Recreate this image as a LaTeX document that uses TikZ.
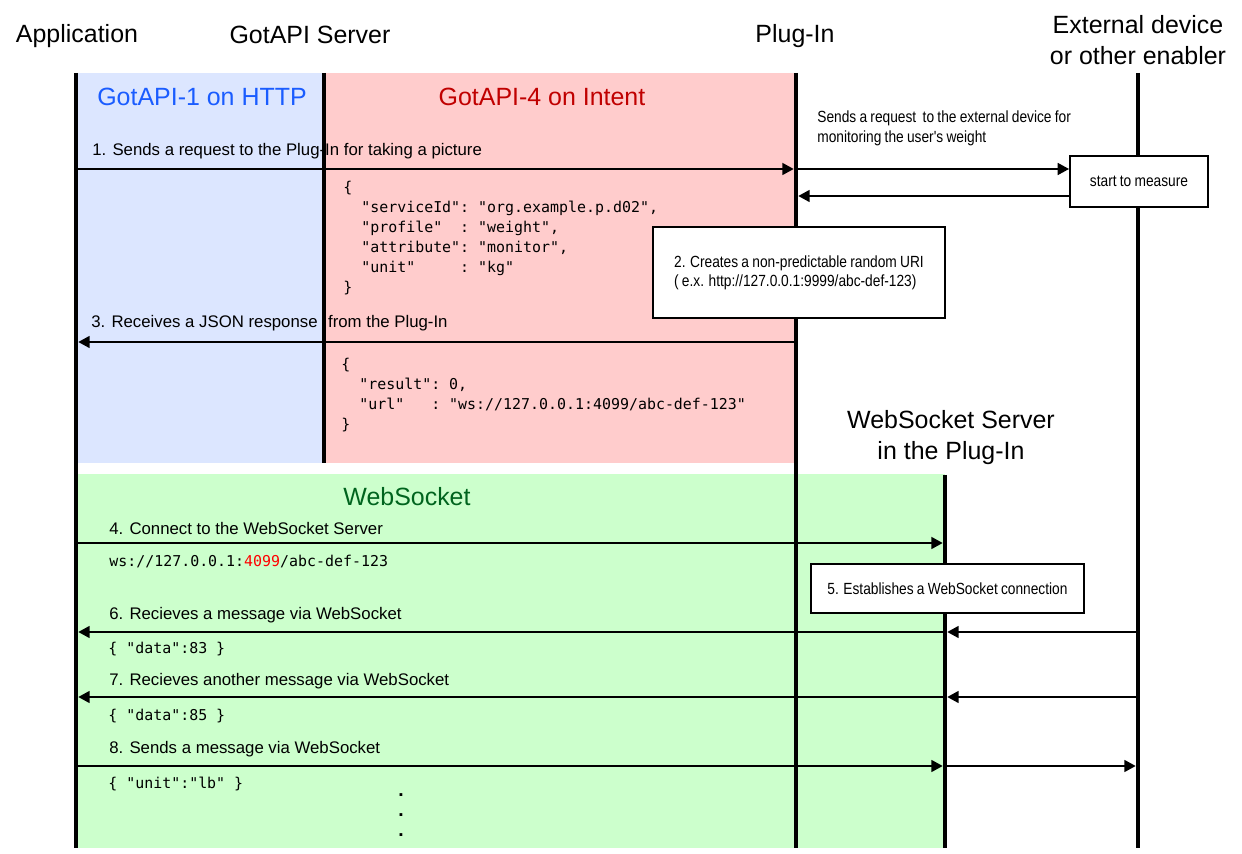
\documentclass[tikz,border=0pt]{standalone}
\usepackage{fontspec}
\setmainfont{Liberation Sans}
\setmonofont{DejaVu Sans Mono}
\newfontfamily\narrowfont[FakeStretch=0.85, WordSpace=0.85]{Liberation Sans}
\usepackage{xcolor}
\usepackage{tikz}
\usetikzlibrary{arrows.meta}

\definecolor{httpblue}{HTML}{DCE6FF}
\definecolor{intentpink}{HTML}{FFCCCC}
\definecolor{wsgreen}{HTML}{CCFFCC}
\definecolor{httptitle}{HTML}{1A5CFF}
\definecolor{intenttitle}{HTML}{C00000}
\definecolor{wstitle}{HTML}{00641E}

\newcommand{\jsind}{\hphantom{00}}

\tikzstyle{actor} = [inner sep=0pt, 
align=center, 
font=\fontsize{14.2}{17.6}\selectfont]
\tikzstyle{areatitle} = [inner sep=0pt, 
font=\fontsize{14.2}{17}\selectfont]
\tikzstyle{lifeline} = [line width=2.8pt]
\tikzstyle{msg} = [line width=1.1pt, 
-{Triangle[length=6.5pt, width=6.8pt]}, 
shorten >=1.3pt]
\tikzstyle{msglabel} = [anchor=west, 
inner sep=0pt, 
font=\fontsize{9.55}{11}\selectfont]
\tikzstyle{code} = [anchor=north west, 
inner sep=0pt, 
align=left, 
font=\ttfamily\fontsize{8.5}{11.4}\selectfont]
\tikzstyle{notetext} = [anchor=west, 
inner sep=0pt, 
align=left, 
font=\narrowfont\fontsize{9.2}{11.3}\selectfont]
\tikzstyle{notebox} = [rectangle, 
draw=black, 
line width=1.1pt, 
fill=white, 
align=left, 
font=\narrowfont\fontsize{9.2}{10.8}\selectfont]

\begin{document}
\begin{tikzpicture}[x=0.02cm, y=-0.02cm]
    \useasboundingbox (0,0) rectangle (1242,854);

    % lifelines
    \coordinate (appTop) at (76,73);
    \coordinate (appEnd) at (76,848);
    \coordinate (gotTop) at (324,73);
    \coordinate (gotEnd) at (324,463);
    \coordinate (plugTop) at (796,73);
    \coordinate (plugEnd) at (796,848);
    \coordinate (wssTop) at (945,475);
    \coordinate (wssEnd) at (945,848);
    \coordinate (extTop) at (1138,73);
    \coordinate (extEnd) at (1138,848);

    % message rows
    \coordinate (r1) at (0,169);
    \coordinate (r2) at (0,196);
    \coordinate (r3) at (0,342);
    \coordinate (r4) at (0,543);
    \coordinate (r6) at (0,632);
    \coordinate (r7) at (0,697);
    \coordinate (r8) at (0,766);

    \fill [httpblue] (appTop) rectangle (gotEnd);
    \fill [intentpink] (gotTop) rectangle (plugTop |- gotEnd);
    \fill [wsgreen] (76,474) rectangle (wssEnd);

    \node (app) [actor] at (77,36) {Application};
    \node (gotapi) [actor] at (310,35) {GotAPI Server};
    \node (plugin) [actor] at (795,36) {Plug-In};
    \node (ext) [actor] at (1138,40) {External device\\or other enabler};
    \node (wss) [actor] at (951,438) {WebSocket Server\\in the Plug-In};

    \node (httpTitle) [areatitle, text=httptitle] at (202,97) {GotAPI-1 on HTTP};
    \node (intentTitle) [areatitle, text=intenttitle] at (542,97) {GotAPI-4 on Intent};
    \node (wsTitle) [areatitle, text=wstitle] at (407,497) {WebSocket};

    \node (l1) [msglabel] at (92,151) {1. Sends a request to the Plug-In for taking a picture};
    \node (l1ext) [notetext] at (817,128) {Sends a request\ \ to the external device for\\monitoring the user's weight};
    \node (l3) [msglabel] at (91,323) {3. Receives a JSON response\hspace{6pt}from the Plug-In};
    \node (l4) [msglabel] at (109,529) {4. Connect to the WebSocket Server};
    \node (l6) [msglabel] at (109,615) {6. Recieves a message via WebSocket};
    \node (l7) [msglabel] at (109,681) {7. Recieves another message via WebSocket};
    \node (l8) [msglabel] at (109,749) {8. Sends a message via WebSocket};

    \node (request) [code] at (343,181) {\{\\
        \jsind"serviceId":~"org.example.p.d02",\\
        \jsind"profile"~~:~"weight",\\
        \jsind"attribute":~"monitor",\\
        \jsind"unit"~~~~~:~"kg"\\
        \}};
    \node (response) [code] at (341,357.5) {\{\\
        \jsind"result":~0,\\
        \jsind"url"~~~:~"ws://127.0.0.1:4099/abc-def-123"\\
        \}};
    \node (wsurl) [code, anchor=west] at (109,562) {ws://127.0.0.1:\textcolor{red}{4099}/abc-def-123};
    \node (data1) [code, anchor=west] at (108,649) {\{~"data":83~\}};
    \node (data2) [code, anchor=west] at (108,716) {\{~"data":85~\}};
    \node (unit) [code, anchor=west] at (108,784) {\{~"unit":"lb"~\}};

    \foreach \y in {797,817,837}
        \node (dot\y) [anchor=base west, inner sep=0pt, font=\bfseries\fontsize{11}{11}\selectfont] at (398,\y) {.};

    \draw [lifeline] (appTop) -- (appEnd);
    \draw [lifeline] (gotTop) -- (gotEnd);
    \draw [lifeline] (plugTop) -- (plugEnd);
    \draw [lifeline] (wssTop) -- (wssEnd);
    \draw [lifeline] (extTop) -- (extEnd);

    \node (measure) [notebox, minimum width=2.76cm, minimum height=1.02cm] at (1139,181.5) {start to measure};
    \node (uri) [notebox, minimum width=5.84cm, minimum height=1.82cm] at (799,272.5) {2. Creates a non-predictable random URI\\( e.x. http://127.0.0.1:9999/abc-def-123)};
    \node (wsconn) [notebox, minimum width=5.46cm, minimum height=0.98cm] at (947.5,588.5) {5. Establishes a WebSocket connection};

    \draw [msg] (appTop |- r1) -- (plugTop |- r1);
    \draw [msg, shorten >=0pt] (plugTop |- r1) -- (measure.west |- r1);
    \draw [msg] (measure.west |- r2) -- (plugTop |- r2);
    \draw [msg] (plugTop |- r3) -- (appTop |- r3);
    \draw [msg] (appTop |- r4) -- (wssTop |- r4);
    \draw [msg] (extTop |- r6) -- (wssTop |- r6);
    \draw [msg] (wssTop |- r6) -- (appTop |- r6);
    \draw [msg] (extTop |- r7) -- (wssTop |- r7);
    \draw [msg] (wssTop |- r7) -- (appTop |- r7);
    \draw [msg] (appTop |- r8) -- (wssTop |- r8);
    \draw [msg] (wssTop |- r8) -- (extTop |- r8);

\end{tikzpicture}
\end{document}
